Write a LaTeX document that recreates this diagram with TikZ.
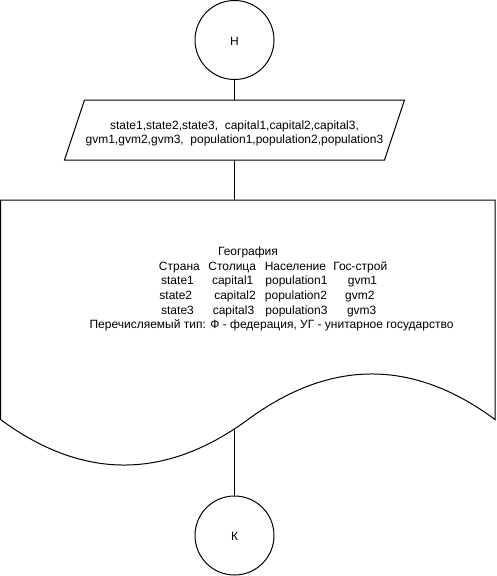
\documentclass[tikz,border=0pt]{standalone}
\usepackage{fontspec}
\setmainfont{Liberation Sans}
\begin{document}
\begin{tikzpicture}[x=1pt,y=-1pt,line width=1pt,
  term/.style={draw,circle,minimum size=79pt,inner sep=0pt},
  lbl/.style={inner sep=0pt,anchor=base,font=\fontsize{12pt}{14pt}\selectfont},
  link/.style={draw,line width=1pt}]
\useasboundingbox (0,0) rectangle (496,576);
% start terminal
\node[term] (H) at (234.5,40) {};
\node[lbl] (Ht) at (234.5,45) {Н};
% input parallelogram
\draw (84.5,100) -- (404.5,100) -- (384.5,160) -- (64.5,160) -- cycle;
\coordinate (iotop) at (234.5,100);
\coordinate (iobot) at (234.5,160);
\node[lbl] (in1) at (234.5,129.5) {state1,state2,state3,\ \ capital1,capital2,capital3,};
\node[lbl] (in2) at (234.5,143) {gvm1,gvm2,gvm3,\ \ population1,population2,population3};
% document shape
\draw (0.5,200) -- (495,200) -- (495,419.5)
  .. controls (413,358.8) and (330.7,358.8) .. (248,419.5)
  .. controls (165.3,480.2) and (82.8,480.2) .. (0.5,419.5) -- cycle;
\coordinate (doctop) at (234.5,200);
\coordinate (docwave) at (234.5,429.2);
\node[lbl] (title) at (248,255) {География};
\node[lbl] (c1) at (179.4,270) {Страна};
\node[lbl] (c2) at (232.2,270) {Столица};
\node[lbl] (c3) at (295.4,270) {Население};
\node[lbl] (c4) at (360.3,270) {Гос-строй};
\node[lbl] (s1) at (177.5,284.7) {state1};
\node[lbl] (k1) at (232.7,284.7) {capital1};
\node[lbl] (p1) at (296.5,284.7) {population1};
\node[lbl] (g1) at (362.5,284.7) {gvm1};
\node[lbl] (s2) at (175.8,299.4) {state2};
\node[lbl] (k2) at (235,299.4) {capital2};
\node[lbl] (p2) at (296,299.4) {population2};
\node[lbl] (g2) at (359.8,299.4) {gvm2};
\node[lbl] (s3) at (177.5,314) {state3};
\node[lbl] (k3) at (233.5,314) {capital3};
\node[lbl] (p3) at (296.5,314) {population3};
\node[lbl] (g3) at (361.7,314) {gvm3};
\node[lbl] (enum) at (271.5,328.7) {Перечисляемый тип: Ф - федерация, УГ - унитарное государство};
% end terminal
\node[term] (K) at (234.5,535.5) {};
\node[lbl] (Kt) at (234.5,540) {К};
% connectors
\draw[link] (H) -- (iotop);
\draw[link] (iobot) -- (doctop);
\draw[link] (docwave) -- (K);
\end{tikzpicture}
\end{document}
